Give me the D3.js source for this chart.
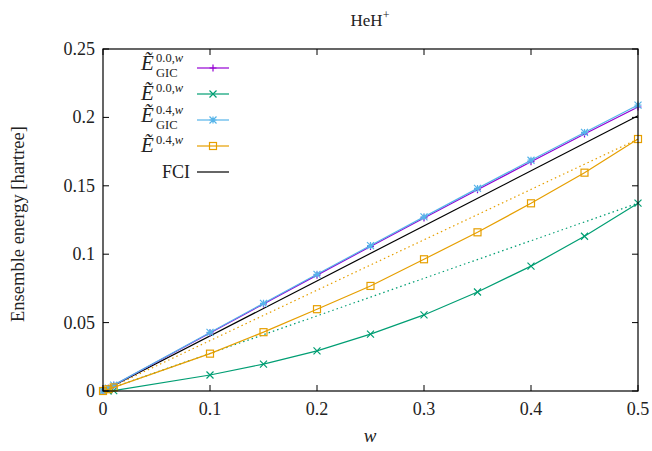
<!DOCTYPE html>
<html>
<head>
<meta charset="utf-8">
<script src="https://cdn.jsdelivr.net/npm/d3@7"></script>
<style>
  body { margin: 0; background: #fff; }
</style>
</head>
<body>
<script>
// weights and ensemble energies
var wValues   = [0, 0.005, 0.01, 0.1, 0.15, 0.2, 0.25, 0.3, 0.35, 0.4, 0.45, 0.5];
var gic00     = [0, 0.0021, 0.0042, 0.0424, 0.0636, 0.0847, 0.1056, 0.1265, 0.1471, 0.1676, 0.1878, 0.2076];
var ens00     = [0, 0.0001, 0.0003, 0.0117, 0.0197, 0.0293, 0.0416, 0.0556, 0.0724, 0.0913, 0.1131, 0.1373];
var gic04     = [0, 0.0021, 0.0043, 0.0428, 0.0641, 0.0853, 0.1063, 0.1273, 0.1481, 0.1687, 0.1890, 0.2090];
var ens04     = [0, 0.0013, 0.0026, 0.0273, 0.0430, 0.0598, 0.0768, 0.0963, 0.1160, 0.1372, 0.1596, 0.1842];
var fciW      = [0, 0.5];
var fciE      = [0, 0.2012];
var xTicks    = [0, 0.1, 0.2, 0.3, 0.4, 0.5];
var yTicks    = [0, 0.05, 0.1, 0.15, 0.2, 0.25];

var width = 652, height = 451;
var margin = {top: 49, right: 14, bottom: 60, left: 103};

var svg = d3.select("body").append("svg")
    .attr("width", width)
    .attr("height", height);

// every text gets the serif font set directly
function txt(sel, size) {
  return sel.append("text")
    .style("font-family", "'Liberation Serif'")
    .style("font-size", size + "px")
    .style("fill", "#222");
}

var x = d3.scaleLinear().domain([0, 0.5]).range([margin.left, width - margin.right]);
var y = d3.scaleLinear().domain([0, 0.25]).range([height - margin.bottom, margin.top]);

var line = d3.line()
    .x(function(d) { return x(d[0]); })
    .y(function(d) { return y(d[1]); });

function pairs(xs, ys) { return xs.map(function(v, i) { return [v, ys[i]]; }); }

// marker shapes, gnuplot style
function marker(g, type, color) {
  var s = 3.5;
  if (type == "plus") {
    g.append("path").attr("d", "M" + (-s) + ",0H" + s + "M0," + (-s) + "V" + s)
      .attr("stroke", color).attr("stroke-width", 1.2);
  } else if (type == "cross") {
    g.append("path").attr("d", "M" + (-s) + "," + (-s) + "L" + s + "," + s + "M" + (-s) + "," + s + "L" + s + "," + (-s))
      .attr("stroke", color).attr("stroke-width", 1.2);
  } else if (type == "star") {
    g.append("path").attr("d", "M" + (-s) + ",0H" + s + "M0," + (-s) + "V" + s +
        "M" + (-s) + "," + (-s) + "L" + s + "," + s + "M" + (-s) + "," + s + "L" + s + "," + (-s))
      .attr("stroke", color).attr("stroke-width", 1.2);
  } else if (type == "square") {
    g.append("rect").attr("x", -s).attr("y", -s).attr("width", 2 * s).attr("height", 2 * s)
      .attr("fill", "none").attr("stroke", color).attr("stroke-width", 1.2);
  }
}

var series = [
  {key: "gic00", vals: gic00, color: "#9400d3", mark: "plus"},
  {key: "ens00", vals: ens00, color: "#009e73", mark: "cross"},
  {key: "gic04", vals: gic04, color: "#56b4e9", mark: "star"},
  {key: "ens04", vals: ens04, color: "#e69f00", mark: "square"}
];

// dotted linear interpolations between w=0 and w=0.5
[["ens04", ens04, "#e69f00"], ["ens00", ens00, "#009e73"]].forEach(function(s) {
  svg.append("path")
    .attr("d", line([[0, s[1][0]], [0.5, s[1][s[1].length - 1]]]))
    .attr("fill", "none").attr("stroke", s[2]).attr("stroke-width", 1.2)
    .attr("stroke-dasharray", "1.5,3");
});

// FCI
svg.append("path")
  .attr("d", line(pairs(fciW, fciE)))
  .attr("fill", "none").attr("stroke", "#000").attr("stroke-width", 1.2);

series.forEach(function(s) {
  svg.append("path")
    .attr("d", line(pairs(wValues, s.vals)))
    .attr("fill", "none").attr("stroke", s.color).attr("stroke-width", 1.2);
  pairs(wValues, s.vals).forEach(function(p) {
    var g = svg.append("g").attr("transform", "translate(" + x(p[0]) + "," + y(p[1]) + ")");
    marker(g, s.mark, s.color);
  });
});

// frame and mirrored ticks
var x0 = x(0), x1 = x(0.5), y0 = y(0), y1 = y(0.25);
svg.append("rect").attr("x", x0).attr("y", y1).attr("width", x1 - x0).attr("height", y0 - y1)
  .attr("fill", "none").attr("stroke", "#000").attr("stroke-width", 1.2);

xTicks.forEach(function(t) {
  svg.append("path").attr("d", "M" + x(t) + "," + y0 + "v-6M" + x(t) + "," + y1 + "v6")
    .attr("stroke", "#000").attr("stroke-width", 1);
  txt(svg, 18).attr("x", x(t)).attr("y", y0 + 24).attr("text-anchor", "middle")
    .text(d3.format("")(t));
});
yTicks.forEach(function(t) {
  svg.append("path").attr("d", "M" + x0 + "," + y(t) + "h6M" + x1 + "," + y(t) + "h-6")
    .attr("stroke", "#000").attr("stroke-width", 1);
  txt(svg, 18).attr("x", x0 - 8).attr("y", y(t) + 6).attr("text-anchor", "end")
    .text(d3.format("")(t));
});

// title and axis labels
var title = txt(svg, 17).attr("x", 370).attr("y", 26).attr("text-anchor", "middle");
title.append("tspan").text("HeH");
title.append("tspan").attr("dy", -7).style("font-size", "12px").text("+");

txt(svg, 19).attr("x", 370).attr("y", 442).attr("text-anchor", "middle")
  .style("font-style", "italic").text("w");

txt(svg, 18.5).attr("transform", "translate(24,224) rotate(-90)")
  .attr("text-anchor", "middle")
  .text("Ensemble energy [hartree]");

// legend
var legend = [
  {sup: "0.0,", sub: "GIC", color: "#9400d3", mark: "plus"},
  {sup: "0.0,", sub: null, color: "#009e73", mark: "cross"},
  {sup: "0.4,", sub: "GIC", color: "#56b4e9", mark: "star"},
  {sup: "0.4,", sub: null, color: "#e69f00", mark: "square"},
  {fci: true, color: "#000", mark: null}
];
var legY = [68, 94, 120, 146, 172];

legend.forEach(function(d, i) {
  var ly = legY[i];
  svg.append("path").attr("d", "M197," + ly + "H229")
    .attr("stroke", d.color).attr("stroke-width", 1.2);
  if (d.mark) {
    var g = svg.append("g").attr("transform", "translate(213," + ly + ")");
    marker(g, d.mark, d.color);
  }
  if (d.fci) {
    txt(svg, 18).attr("x", 190).attr("y", ly + 6).attr("text-anchor", "end").text("FCI");
    return;
  }
  var base = d.sub ? ly + 2 : ly + 6;
  var tx = 141;
  txt(svg, 21).attr("x", tx).attr("y", base)
    .style("font-style", "italic").text("\u1EBC");
  var sup = txt(svg, 12.5).attr("x", tx + 15).attr("y", base - 8);
  sup.append("tspan").text(d.sup);
  sup.append("tspan").style("font-style", "italic").text("w");
  if (d.sub) {
    txt(svg, 12.5).attr("x", tx + 15).attr("y", base + 7).text(d.sub);
  }
});
</script>
</body>
</html>
